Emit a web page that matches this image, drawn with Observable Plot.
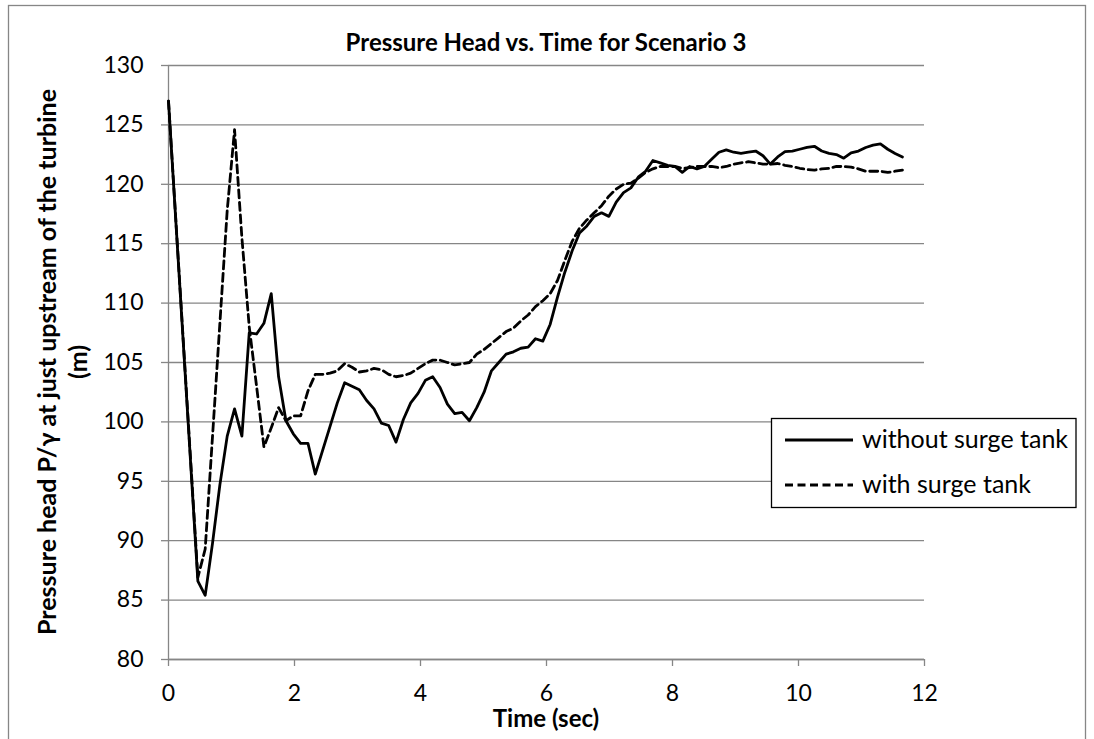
<!DOCTYPE html>
<html>
<head>
<meta charset="utf-8">
<script src="https://cdn.jsdelivr.net/npm/d3@7"></script>
<script src="https://cdn.jsdelivr.net/npm/@observablehq/plot@0.6"></script>
<style>
  html, body { margin: 0; padding: 0; background: #fff; }
  #chart { width: 1094px; height: 739px; }
</style>
</head>
<body>
<div id="chart"></div>
<script>
// ---- data ----
const timeStep = 0.1165; // sec between samples
const withoutSurgeTank = [
  127.0, null, null, null, 86.6, 85.4, 89.8, 94.7, 98.8, 101.1,
  98.8, 107.5, 107.4, 108.3, 110.8, 103.8, 100.1, 99.0, 98.2, 98.2,
  95.6, 97.6, 99.6, 101.6, 103.3, 103.0, 102.7, 101.8, 101.1, 99.9,
  99.7, 98.3, 100.2, 101.6, 102.4, 103.5, 103.8, 102.9, 101.5, 100.7,
  100.8, 100.1, 101.2, 102.5, 104.3, 105.0, 105.7, 105.9, 106.2, 106.3,
  107.0, 106.8, 108.2, 110.5, 112.6, 114.4, 115.9, 116.5, 117.3, 117.6,
  117.3, 118.5, 119.3, 119.7, 120.6, 121.1, 122.0, 121.8, 121.6, 121.5,
  121.0, 121.5, 121.3, 121.5, 122.1, 122.7, 122.9, 122.7, 122.6, 122.7,
  122.8, 122.4, 121.7, 122.3, 122.75, 122.8, 122.95, 123.1, 123.2, 122.8,
  122.6, 122.5, 122.2, 122.65, 122.8, 123.1, 123.3, 123.4, 122.95, 122.6,
  122.3
];
const withSurgeTank = [
  127.0, null, null, null, 86.9, 89.3, 98.8, 108.3, 117.8, 124.6,
  115.5, 108.0, 103.0, 97.9, 99.5, 101.2, 100.1, 100.5, 100.5, 102.6,
  104.0, 104.0, 104.1, 104.3, 104.9, 104.6, 104.2, 104.3, 104.5, 104.4,
  104.0, 103.8, 103.9, 104.1, 104.5, 104.9, 105.2, 105.2, 105.0, 104.8,
  104.9, 105.0, 105.7, 106.1, 106.6, 107.1, 107.6, 107.9, 108.5, 109.0,
  109.7, 110.2, 110.8, 111.9, 113.6, 115.2, 116.3, 117.0, 117.6, 118.2,
  119.0, 119.6, 120.0, 120.1, 120.5, 121.0, 121.3, 121.5, 121.5, 121.5,
  121.35, 121.4, 121.5, 121.5, 121.5, 121.4, 121.5, 121.7, 121.8, 121.9,
  121.8, 121.7, 121.7, 121.75, 121.6, 121.5, 121.35, 121.25, 121.2, 121.3,
  121.35, 121.5, 121.5, 121.45, 121.3, 121.1, 121.1, 121.1, 121.0, 121.1,
  121.2
];
const seriesNames = ["without surge tank", "with surge tank"];
const xTicks = [0, 2, 4, 6, 8, 10, 12];
const yTicks = [80, 85, 90, 95, 100, 105, 110, 115, 120, 125, 130];
const titleText = "Pressure Head vs. Time for Scenario 3";
const xLabel = "Time (sec)";
const yLabelLines = ["Pressure head P/\u03b3 at just upstream of the turbine", "(m)"];

// ---- build table ----
function toRows(values, series) {
  return values.map((v, i) => ({t: i * timeStep, v, series})).filter(d => d.v != null);
}
const rowsA = toRows(withoutSurgeTank, seriesNames[0]);
const rowsB = toRows(withSurgeTank, seriesNames[1]);

const W = 1094, H = 739;
const gray = "#868686";
const font = "Lato, 'Open Sans', sans-serif";

const chart = Plot.plot({
  width: W,
  height: H,
  marginLeft: 168,
  marginRight: 170,
  marginTop: 65,
  marginBottom: 80,
  style: {fontFamily: font, fontSize: "23px", color: "#000", background: "#fff", overflow: "visible"},
  x: {domain: [0, 12], ticks: xTicks, label: null},
  y: {domain: [80, 130], ticks: yTicks, label: null},
  marks: [
    Plot.gridY(yTicks, {stroke: gray, strokeOpacity: 1, strokeWidth: 1.3}),
    Plot.ruleX([0], {stroke: gray, strokeWidth: 1.3}),
    Plot.ruleY([80], {stroke: gray, strokeWidth: 1.3}),
    Plot.axisX(xTicks, {tickSize: 7, tickPadding: 18, stroke: gray, strokeWidth: 1.3, fill: "#000", fontSize: 23}),
    Plot.axisY(yTicks, {tickSize: 7, tickPadding: 18, stroke: gray, strokeWidth: 1.3, fill: "#000", fontSize: 23}),
    Plot.line(rowsB, {x: "t", y: "v", stroke: "#000", strokeWidth: 2.8, strokeDasharray: "8,4.5"}),
    Plot.line(rowsA, {x: "t", y: "v", stroke: "#000", strokeWidth: 2.8})
  ]
});

document.getElementById("chart").appendChild(chart);

// ---- decorations: border, titles, legend ----
const svg = d3.select(chart);
svg.insert("rect", ":first-child")
  .attr("x", 8.5).attr("y", 5.5).attr("width", 1077).attr("height", 745)
  .attr("fill", "#fff").attr("stroke", gray).attr("stroke-width", 1.3);

svg.append("text")
  .attr("x", 546).attr("y", 51)
  .attr("text-anchor", "middle")
  .attr("font-family", font).attr("font-weight", "bold").attr("font-size", 24)
  .attr("fill", "#000")
  .text(titleText);

svg.append("text")
  .attr("x", 546).attr("y", 727)
  .attr("text-anchor", "middle")
  .attr("font-family", font).attr("font-weight", "bold").attr("font-size", 24)
  .attr("fill", "#000")
  .text(xLabel);

const yl = svg.append("g");
yl.append("text")
  .attr("transform", "translate(56,362) rotate(-90)")
  .attr("text-anchor", "middle")
  .attr("font-family", font).attr("font-weight", "bold").attr("font-size", 25)
  .attr("fill", "#000")
  .text(yLabelLines[0]);
yl.append("text")
  .attr("transform", "translate(87,362) rotate(-90)")
  .attr("text-anchor", "middle")
  .attr("font-family", font).attr("font-weight", "bold").attr("font-size", 25)
  .attr("fill", "#000")
  .text(yLabelLines[1]);

const lg = svg.append("g");
lg.append("rect")
  .attr("x", 771.5).attr("y", 418.5).attr("width", 304.5).attr("height", 89)
  .attr("fill", "#fff").attr("stroke", "#000").attr("stroke-width", 1.3);
const legendItems = [
  {name: seriesNames[0], y: 440, dash: null},
  {name: seriesNames[1], y: 485, dash: "8,4.5"}
];
legendItems.forEach(it => {
  lg.append("line")
    .attr("x1", 785).attr("x2", 853).attr("y1", it.y).attr("y2", it.y)
    .attr("stroke", "#000").attr("stroke-width", 2.8)
    .attr("stroke-dasharray", it.dash);
  lg.append("text")
    .attr("x", 862).attr("y", it.y + 8)
    .attr("text-anchor", "start")
    .attr("font-family", font).attr("font-size", 25).attr("fill", "#000")
    .text(it.name);
});
</script>
</body>
</html>
